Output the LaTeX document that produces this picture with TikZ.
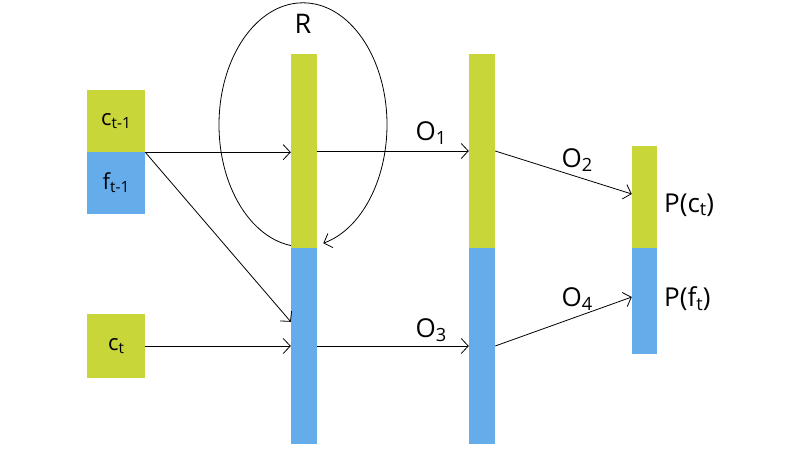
\documentclass[tikz,border=0pt]{standalone}
\usepackage{fontspec}
\setmainfont{Open Sans}
\usetikzlibrary{positioning, arrows.meta, calc, backgrounds}
\definecolor{cgreen}{RGB}{200,214,58}
\definecolor{cblue}{RGB}{100,172,234}
\newcommand{\lowsub}[1]{\raisebox{-0.14em}{\scalebox{0.7}{#1}}}

\begin{document}
\begin{tikzpicture}[
    x=1pt, y=-1pt,
    >={Straight Barb[length=7pt, width=15pt, line width=0.8pt]},
    cell/.style={draw=none, fill=#1, minimum width=58pt, inner sep=0pt, font=\fontsize{22}{24}\selectfont},
    bar/.style={draw=none, fill=#1, minimum width=26pt, inner sep=0pt},
    arrow/.style={->, line width=0.8pt, draw=black},
    lbl/.style={inner sep=0pt, font=\fontsize{26}{29}\selectfont}
]
\useasboundingbox (0,0) rectangle (794,455);

%% ============================================================
%% INPUTS
%% ============================================================
\node[cell=cgreen, minimum height=62pt] (cprev) at (116,121) {c\lowsub{t-1}};
\node[cell=cblue, minimum height=62pt] (fprev) at (116,183) {f\lowsub{t-1}};
\node[cell=cgreen, minimum height=64pt] (ccur) at (116,346) {c\lowsub{t}};

%% ============================================================
%% HIDDEN, OUTPUT AND PREDICTION LAYERS
%% ============================================================
\node[bar=cgreen, minimum height=194pt] (hg) at (304,151) {};
\node[bar=cblue, minimum height=196pt] (hb) at (304,346) {};
\node[bar=cgreen, minimum height=194pt] (og) at (482,151) {};
\node[bar=cblue, minimum height=196pt] (ob) at (482,346) {};
\node[bar=cgreen, minimum width=25pt, minimum height=102pt] (pg) at (644.5,197) {};
\node[bar=cblue, minimum width=25pt, minimum height=106pt] (pb) at (644.5,301) {};

\node[lbl, font=\fontsize{27}{30}\selectfont] (rlab) at (303,24) {R};
\node[lbl, anchor=west] (pclab) at (664,205) {P(c\lowsub{t})};
\node[lbl, anchor=west] (pflab) at (664,299) {P(f\lowsub{t})};

%% --- recurrent loop ---
\coordinate (rc) at ($(hg.north)+(-1,71)$);
\begin{scope}[on background layer]
    \draw[arrow] ($(rc)+(90:84 and 122)$) arc[start angle=90, end angle=436, x radius=84, y radius=122];
\end{scope}

%% --- connections ---
\coordinate (tin) at ($(hb.north west)+(0,74)$);
\draw[arrow] (cprev.south east) -- (cprev.south east -| hg.west);
\draw[arrow] (cprev.south east) -- (tin);
\draw[arrow] (ccur.east) -- (hb.west);
\draw[arrow] (hg.east) -- (og.west);
\draw[arrow] (hb.east) -- (ob.west);
\draw[arrow] (og.east) -- ($(pg.west)+(0,-3)$);
\draw[arrow] (ob.east) -- ($(pb.west)+(0,-4)$);

\node[lbl] (o1) at (431,133) {O\lowsub{1}};
\node[lbl] (o2) at (577,160) {O\lowsub{2}};
\node[lbl] (o3) at (431,330) {O\lowsub{3}};
\node[lbl] (o4) at (577,299) {O\lowsub{4}};

\end{tikzpicture}
\end{document}
